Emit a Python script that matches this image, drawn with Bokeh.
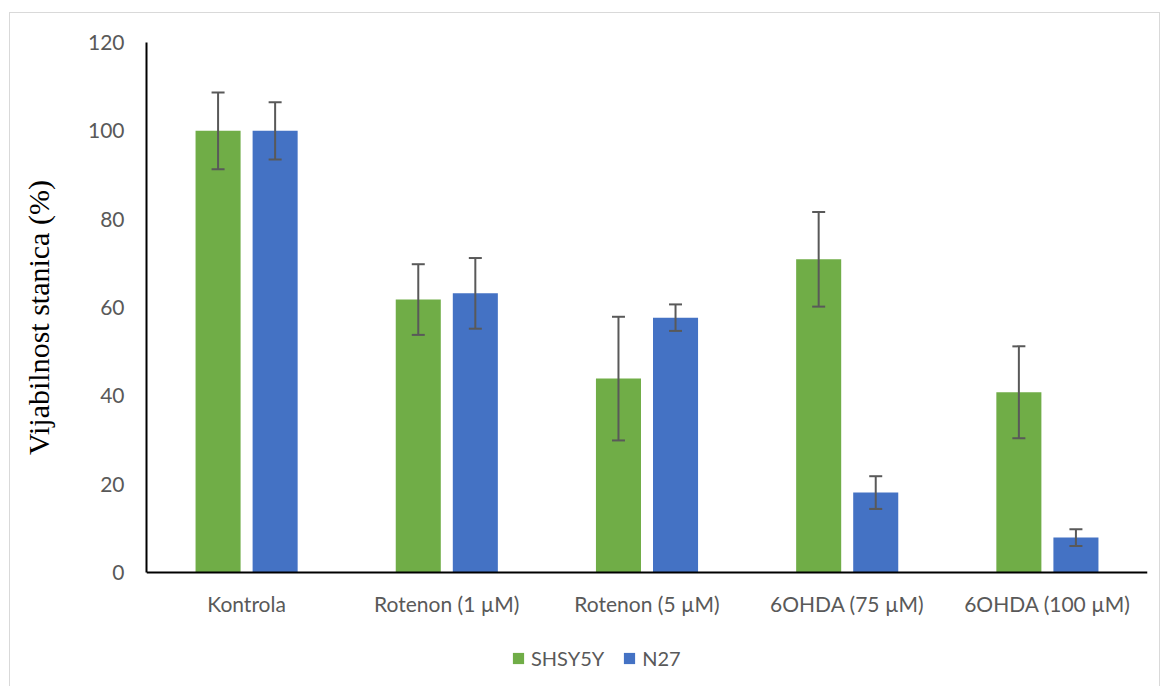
from bokeh.plotting import figure
from bokeh.models import ColumnDataSource, FactorRange, Range1d, Whisker, Legend, LegendItem, TeeHead
from bokeh.transform import dodge
from bokeh.embed import file_html
from bokeh.resources import INLINE

categories = ["Kontrola", "Rotenon (1 µM)", "Rotenon (5 µM)", "6OHDA (75 µM)", "6OHDA (100 µM)"]
shsy5y = [100.0, 61.8, 43.9, 70.9, 40.8]
shsy5y_err = [8.7, 8.0, 14.0, 10.7, 10.4]
n27 = [100.0, 63.2, 57.7, 18.1, 7.9]
n27_err = [6.5, 8.0, 3.0, 3.7, 1.9]
y_ticks = [0, 20, 40, 60, 80, 100, 120]

GREEN = "#70AD47"
BLUE = "#4472C4"
GREY = "#595959"

src = ColumnDataSource(dict(
    cat=categories,
    s=shsy5y, s_lo=[v - e for v, e in zip(shsy5y, shsy5y_err)], s_hi=[v + e for v, e in zip(shsy5y, shsy5y_err)],
    n=n27, n_lo=[v - e for v, e in zip(n27, n27_err)], n_hi=[v + e for v, e in zip(n27, n27_err)],
))

# frame extends below 0 to make room for tick labels and legend (axis drawn at y=0)
FRAME_H = 640
PX_PER_UNIT = 530 / 120
y_bottom = 120 - FRAME_H / PX_PER_UNIT

p = figure(x_range=FactorRange(*categories, range_padding=0), y_range=Range1d(y_bottom, 120),
           frame_width=1001, frame_height=FRAME_H, output_backend="svg", toolbar_location=None,
           min_border_left=136, min_border_right=12, min_border_top=29, min_border_bottom=4)
p.styles = {"border": "1px solid #d9d9d9", "margin-top": "12px", "margin-left": "9px", "margin-bottom": "-20px"}
p.outline_line_color = None
p.xgrid.grid_line_color = None
p.ygrid.grid_line_color = None

off = 0.1425
w = 0.225
r1 = p.vbar(x=dodge("cat", -off, range=p.x_range), top="s", width=w, source=src, fill_color=GREEN, line_color=None)
r2 = p.vbar(x=dodge("cat", off, range=p.x_range), top="n", width=w, source=src, fill_color=BLUE, line_color=None)

for o, lo, hi in [(-off, "s_lo", "s_hi"), (off, "n_lo", "n_hi")]:
    wk = Whisker(base=dodge("cat", o, range=p.x_range), lower=lo, upper=hi, source=src,
                 line_color=GREY, line_width=2, level="annotation",
                 upper_head=TeeHead(size=13, line_color=GREY, line_width=2),
                 lower_head=TeeHead(size=13, line_color=GREY, line_width=2))
    p.add_layout(wk)

p.yaxis.ticker = y_ticks
p.yaxis.bounds = (0, 120)
p.yaxis.axis_line_color = "black"
p.yaxis.axis_line_width = 2
p.yaxis.major_tick_line_color = None
p.yaxis.minor_tick_line_color = None
p.yaxis.major_label_standoff = 16
p.yaxis.major_label_text_font = "Lato"
p.yaxis.major_label_text_font_size = "21px"
p.yaxis.major_label_text_color = GREY
# leading em spaces shift the centred title up to the middle of the 0-120 span
p.yaxis.axis_label = "\u2003\u2003\u2003Vijabilnost stanica (%)"
p.yaxis.axis_label_text_font = "Liberation Serif"
p.yaxis.axis_label_text_font_size = "30px"
p.yaxis.axis_label_text_font_style = "normal"
p.yaxis.axis_label_text_color = "black"
p.yaxis.axis_label_standoff = 30

p.xaxis.fixed_location = 0
p.xaxis.axis_line_color = "black"
p.xaxis.axis_line_width = 2
p.xaxis.major_tick_line_color = None
p.xaxis.minor_tick_line_color = None
p.xaxis.major_label_standoff = 12
p.xaxis.major_label_text_font = "Lato"
p.xaxis.major_label_text_font_size = "21px"
p.xaxis.major_label_text_color = GREY

legend = Legend(items=[LegendItem(label="SHSY5Y", renderers=[r1]), LegendItem(label="N27", renderers=[r2])],
                orientation="horizontal", location=(365, 12), border_line_color=None,
                background_fill_alpha=0, glyph_width=14, glyph_height=14, spacing=18,
                label_text_font="Lato", label_text_font_size="20px", label_text_color=GREY,
                padding=2, margin=0, label_standoff=6)
p.add_layout(legend, "center")

open("out.html", "w").write(file_html(p, INLINE))
